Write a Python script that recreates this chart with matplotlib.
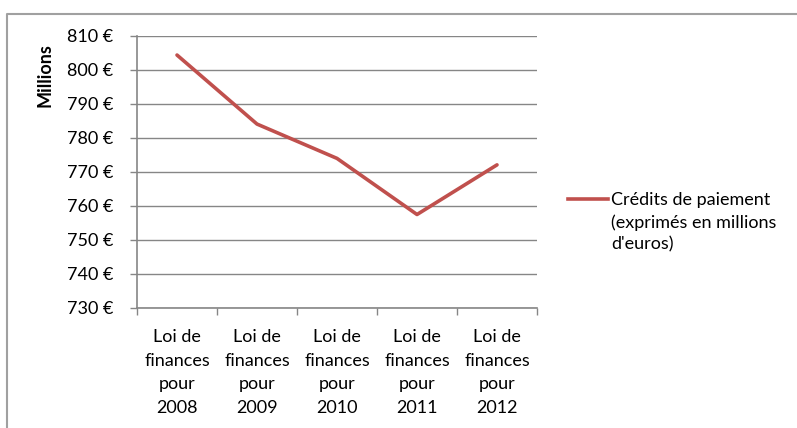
import matplotlib.pyplot as plt
from matplotlib.lines import Line2D

# data (millions of euros)
categories = ['Loi de\nfinances\npour\n2008', 'Loi de\nfinances\npour\n2009',
              'Loi de\nfinances\npour\n2010', 'Loi de\nfinances\npour\n2011',
              'Loi de\nfinances\npour\n2012']
credits = [804.4, 784.1, 774.0, 757.5, 772.1]
y_ticks = [730, 740, 750, 760, 770, 780, 790, 800, 810]
series_label = "Crédits de paiement\n(exprimés en millions\nd'euros)"

plt.rcParams['font.family'] = ['Lato', 'DejaVu Sans']
W, H = 797, 428
fs = 13
grey = '#868686'
red = '#C0504D'

fig = plt.figure(figsize=(W / 100, H / 100), dpi=100)
ax = fig.add_axes([137 / W, 1 - 308 / H, 400 / W, 272 / H])

x = range(len(categories))
ax.plot(x, credits, color=red, linewidth=2.6, solid_capstyle='round')

ax.set_xlim(-0.5, len(categories) - 0.5)
ax.set_ylim(730, 810)
ax.set_yticks(y_ticks)
ax.set_yticklabels([f'{v} €' for v in y_ticks], fontsize=fs)
ax.set_xticks(x)
ax.set_xticklabels(categories, fontsize=fs, linespacing=1.6)
ax.tick_params(axis='x', length=0, pad=15)
ax.set_xticks([i - 0.5 for i in range(len(categories) + 1)], minor=True)
ax.tick_params(axis='x', which='minor', length=5, color=grey, width=1)
ax.tick_params(axis='y', length=5, color=grey, width=1, pad=12)

ax.grid(axis='y', color=grey, linewidth=1)
ax.set_axisbelow(True)
for side in ['top', 'right']:
    ax.spines[side].set_visible(False)
for side in ['left', 'bottom']:
    ax.spines[side].set_color(grey)
    ax.spines[side].set_linewidth(1.2)

fig.text(45 / W, 1 - 75 / H, 'Millions', rotation=90, fontsize=fs,
         fontweight='bold', ha='center', va='center')

# legend drawn by hand so the key sits on the first text line
fig.add_artist(Line2D([568 / W, 608 / W], [1 - 199 / H, 1 - 199 / H],
                      color=red, linewidth=2.6, transform=fig.transFigure))
fig.text(611 / W, 1 - 192 / H, series_label, fontsize=fs, va='top',
         linespacing=1.45)

# outer chart border (cut by the picture edges)
fig.add_artist(Line2D([7 / W, 7 / W, 1.0], [0.0, 1 - 14 / H, 1 - 14 / H],
                      color='#A0A0A0', linewidth=1.5, transform=fig.transFigure))

fig.savefig('out.png', dpi=100)
